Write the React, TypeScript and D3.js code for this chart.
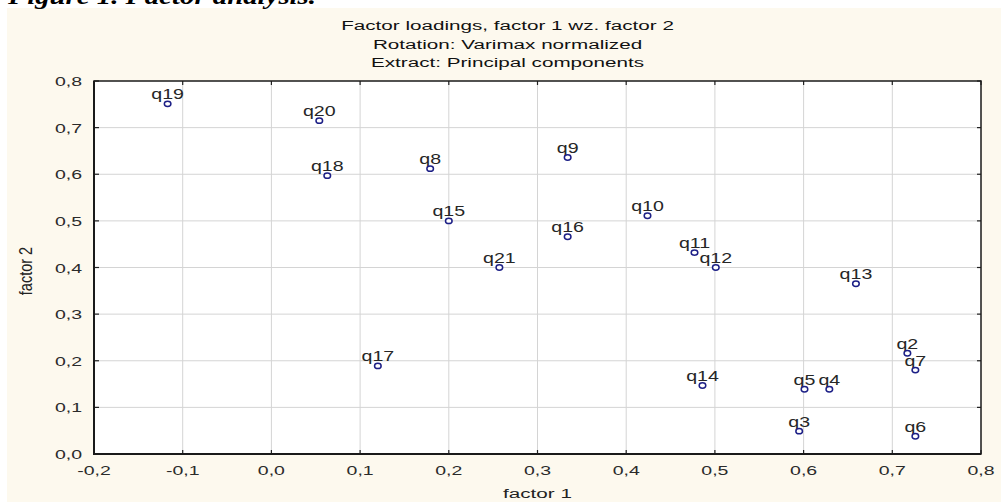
import * as React from "react"
import * as d3 from "d3"

const labels = ["q2", "q3", "q4", "q5", "q6", "q7", "q8", "q9", "q10", "q11", "q12", "q13", "q14", "q15", "q16", "q17", "q18", "q19", "q20", "q21"]
const factor1 = [0.717, 0.595, 0.629, 0.601, 0.726, 0.726, 0.179, 0.334, 0.424, 0.477, 0.501, 0.659, 0.486, 0.2, 0.334, 0.12, 0.063, -0.117, 0.054, 0.257]
const factor2 = [0.216, 0.049, 0.139, 0.139, 0.038, 0.18, 0.612, 0.636, 0.511, 0.432, 0.4, 0.365, 0.147, 0.5, 0.466, 0.189, 0.597, 0.751, 0.715, 0.4]

const xTicks = [-0.2, -0.1, 0.0, 0.1, 0.2, 0.3, 0.4, 0.5, 0.6, 0.7, 0.8]
const yTicks = [0.0, 0.1, 0.2, 0.3, 0.4, 0.5, 0.6, 0.7, 0.8]
const titleLines = [
  "Factor loadings, factor 1 wz. factor 2",
  "Rotation: Varimax normalized",
  "Extract: Principal components",
]

const W = 1001
const H = 502

const locale = d3.formatLocale({
  decimal: ",",
  thousands: ".",
  grouping: [3],
  currency: ["", ""],
  minus: "-",
})
const fmt = locale.format(".1f")

function render(svgRef: React.RefObject<SVGSVGElement>) {
  const svg = d3.select(svgRef.current)
  svg.selectAll("*").remove()

  const left = 94
  const right = 981
  const top = 81
  const bottom = 454

  const x = d3.scaleLinear().domain([-0.2, 0.8]).range([left, right])
  const y = d3.scaleLinear().domain([0, 0.8]).range([bottom, top])

  svg.append("rect").attr("width", W).attr("height", H).attr("fill", "#ffffff")
  svg
    .append("rect")
    .attr("x", 7)
    .attr("y", 8)
    .attr("width", W - 7)
    .attr("height", H - 8)
    .attr("fill", "#fdf9ee")

  svg
    .append("text")
    .attr("x", 8)
    .attr("y", 4)
    .attr("font-family", "Liberation Serif")
    .attr("font-weight", "bold")
    .attr("font-style", "italic")
    .attr("font-size", 24)
    .attr("textLength", 308)
    .attr("lengthAdjust", "spacingAndGlyphs")
    .attr("fill", "#000")
    .text("Figure 1. Factor analysis.")

  svg
    .append("rect")
    .attr("x", left)
    .attr("y", top)
    .attr("width", right - left)
    .attr("height", bottom - top)
    .attr("fill", "#ffffff")

  // grid
  const grid = svg.append("g").attr("stroke", "#d4d4d4").attr("stroke-width", 1)
  grid
    .selectAll(".gx")
    .data(xTicks.slice(1, -1))
    .join("line")
    .attr("class", "gx")
    .attr("x1", (d) => x(d))
    .attr("x2", (d) => x(d))
    .attr("y1", top)
    .attr("y2", bottom)
  grid
    .selectAll(".gy")
    .data(yTicks.slice(1, -1))
    .join("line")
    .attr("class", "gy")
    .attr("y1", (d) => y(d))
    .attr("y2", (d) => y(d))
    .attr("x1", left)
    .attr("x2", right)

  // inward ticks on all four sides
  const ticks = svg.append("g").attr("stroke", "#222").attr("stroke-width", 1.2)
  ticks
    .selectAll(".tb")
    .data(xTicks)
    .join("line")
    .attr("class", "tb")
    .attr("x1", (d) => x(d))
    .attr("x2", (d) => x(d))
    .attr("y1", bottom)
    .attr("y2", bottom - 4)
  ticks
    .selectAll(".tt")
    .data(xTicks)
    .join("line")
    .attr("class", "tt")
    .attr("x1", (d) => x(d))
    .attr("x2", (d) => x(d))
    .attr("y1", top)
    .attr("y2", top + 4)
  ticks
    .selectAll(".tl")
    .data(yTicks)
    .join("line")
    .attr("class", "tl")
    .attr("y1", (d) => y(d))
    .attr("y2", (d) => y(d))
    .attr("x1", left)
    .attr("x2", left + 5)
  ticks
    .selectAll(".tr")
    .data(yTicks)
    .join("line")
    .attr("class", "tr")
    .attr("y1", (d) => y(d))
    .attr("y2", (d) => y(d))
    .attr("x1", right)
    .attr("x2", right - 4)

  // frame
  svg
    .append("rect")
    .attr("x", left)
    .attr("y", top)
    .attr("width", right - left)
    .attr("height", bottom - top)
    .attr("fill", "none")
    .attr("stroke", "#1a1a1a")
    .attr("stroke-width", 1.5)
  svg
    .append("path")
    .attr("d", `M${left},${top}V${bottom}H${right}`)
    .attr("fill", "none")
    .attr("stroke", "#1a1a1a")
    .attr("stroke-width", 2)

  // the source picture is stretched sideways, so texts get a x-scale
  const stretched = (
    g: d3.Selection<SVGGElement, unknown, null, undefined>,
    tx: number,
    ty: number,
    sx: number
  ) => g.attr("transform", `translate(${tx},${ty}) scale(${sx},1)`)

  const font = "Liberation Sans, Arial, sans-serif"
  xTicks.forEach((t) => {
    const g = svg.append("g")
    stretched(g, x(t), 475, 1.5)
    g.append("text")
      .attr("text-anchor", "middle")
      .attr("font-family", font)
      .attr("font-size", 13)
      .attr("fill", "#2b2b2b")
      .text(fmt(t))
  })
  yTicks.forEach((t) => {
    const g = svg.append("g")
    stretched(g, 82, y(t) + 5, 1.5)
    g.append("text")
      .attr("text-anchor", "end")
      .attr("font-family", font)
      .attr("font-size", 13)
      .attr("fill", "#2b2b2b")
      .text(fmt(t))
  })

  // titles
  titleLines.forEach((line, i) => {
    const g = svg.append("g")
    stretched(g, 507.5, 30 + i * 18.5, 1.53)
    g.append("text")
      .attr("text-anchor", "middle")
      .attr("font-family", font)
      .attr("font-size", 13.5)
      .attr("fill", "#111")
      .text(line)
  })

  const xt = svg.append("g")
  stretched(xt, (left + right) / 2, 498, 1.53)
  xt.append("text")
    .attr("text-anchor", "middle")
    .attr("font-family", font)
    .attr("font-size", 13.5)
    .attr("fill", "#222")
    .text("factor 1")

  svg
    .append("text")
    .attr("transform", `translate(32,271) rotate(-90) scale(1,1.25)`)
    .attr("text-anchor", "middle")
    .attr("font-family", font)
    .attr("font-size", 14.5)
    .attr("fill", "#222")
    .text("factor 2")

  // points
  const pts = labels.map((l, i) => ({ label: l, f1: factor1[i], f2: factor2[i] }))

  pts.forEach((p) => {
    const g = svg.append("g")
    stretched(g, x(p.f1), y(p.f2) - 4.5, 1.4)
    g.append("text")
      .attr("text-anchor", "middle")
      .attr("font-family", font)
      .attr("font-size", 14)
      .attr("fill", "#262626")
      .text(p.label)
  })

  svg
    .selectAll(".pt")
    .data(pts)
    .join("ellipse")
    .attr("class", "pt")
    .attr("cx", (d) => x(d.f1))
    .attr("cy", (d) => y(d.f2))
    .attr("rx", 3.3)
    .attr("ry", 2.7)
    .attr("fill", "#ffffff")
    .attr("stroke", "#1c1f86")
    .attr("stroke-width", 1.5)
}

export default function App(): React.JSX.Element {
  const svg = React.useRef<SVGSVGElement>(null)

  React.useEffect(() => {
    render(svg)
  }, [])

  return (
    <svg
      ref={svg}
      width={W}
      height={H}
      style={{ position: "absolute", left: 0, top: 0, display: "block" }}
    ></svg>
  )
}
